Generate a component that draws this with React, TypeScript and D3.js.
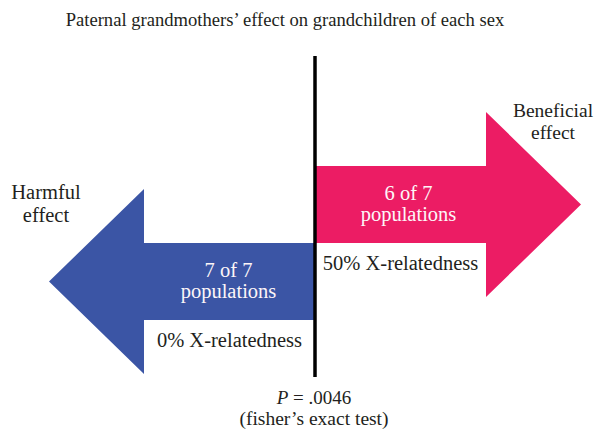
import React, { useRef, useEffect } from 'react';
import * as d3 from 'd3';

// Effect categories, one arrow each
const effects = ['Beneficial', 'Harmful'];
const effectLabels = [['Beneficial', 'effect'], ['Harmful', 'effect']];
const directions = [1, -1];
const populationCounts = [6, 7];
const populationTotals = [7, 7];
const xRelatedness = ['50%', '0%'];
const colors = ['#ec1c64', '#3b55a5'];

const title = 'Paternal grandmothers\u2019 effect on grandchildren of each sex';
const pValue = '.0046';
const testName = '(fisher\u2019s exact test)';

const W = 595;
const H = 432;
const textColor = '#231f20';
const font = '"Liberation Serif", "Times New Roman", serif';

const App: React.FC = () => {
  const svgRef = useRef<SVGSVGElement>(null);

  useEffect(() => {
    if (!svgRef.current) return;
    d3.select(svgRef.current).selectAll('*').remove();

    const svg = d3.select(svgRef.current)
      .attr('width', W)
      .attr('height', H)
      .style('font-family', font);

    // horizontal: -1 harmful tip, 0 = no effect line, 1 beneficial tip
    const x = d3.scaleLinear().domain([-1, 1]).range([49, 581]);
    // vertical position of each arrow's shaft centre
    const y = d3.scalePoint<string>().domain(effects).range([204.5, 281.5]);

    const shaftHalf = 38.5;
    const headHalf = 92.5;
    const headLen = 95;

    // title
    svg.append('text')
      .attr('x', 285)
      .attr('y', 26)
      .attr('text-anchor', 'middle')
      .attr('fill', textColor)
      .style('font-size', '18.6px')
      .text(title);

    const line = d3.line<[number, number]>();

    effects.forEach((e, i) => {
      const d = directions[i];
      const x0 = x(0);
      const tip = x(d);
      const hb = tip - d * headLen;
      const cy = y(e) as number;
      const pts: [number, number][] = [
        [x0, cy - shaftHalf],
        [hb, cy - shaftHalf],
        [hb, cy - headHalf],
        [tip, cy],
        [hb, cy + headHalf],
        [hb, cy + shaftHalf],
        [x0, cy + shaftHalf],
      ];
      svg.append('path')
        .attr('d', line(pts) + 'Z')
        .attr('fill', colors[i]);

      const mid = (x0 + hb) / 2;
      const top = cy - shaftHalf;
      const popX = mid + (d > 0 ? 8 : -1);

      const pop = svg.append('text')
        .attr('text-anchor', 'middle')
        .attr('fill', '#fdf6f8')
        .style('font-size', '20.5px');
      pop.append('tspan')
        .attr('x', popX)
        .attr('y', top + 33.5)
        .text(`${populationCounts[i]} of ${populationTotals[i]}`);
      pop.append('tspan')
        .attr('x', popX)
        .attr('y', top + 54.5)
        .text('populations');

      svg.append('text')
        .attr('x', mid)
        .attr('y', cy + shaftHalf + 26.5)
        .attr('text-anchor', 'middle')
        .attr('fill', textColor)
        .style('font-size', '20.5px')
        .text(`${xRelatedness[i]} X-relatedness`);

      // label near the arrow head
      const lx = d > 0 ? tip - 28 : tip - 3;
      const ly = d > 0 ? cy - headHalf + 4.5 : cy - headHalf + 10;
      const lab = svg.append('text')
        .attr('text-anchor', 'middle')
        .attr('fill', textColor)
        .style('font-size', d > 0 ? '19.5px' : '20.5px');
      effectLabels[i].forEach((t, k) => {
        lab.append('tspan')
          .attr('x', lx)
          .attr('y', ly + k * (d > 0 ? 22 : 23))
          .text(t);
      });
    });

    // no-effect line
    svg.append('line')
      .attr('x1', x(0))
      .attr('x2', x(0))
      .attr('y1', 56)
      .attr('y2', 377)
      .attr('stroke', '#000')
      .attr('stroke-width', 3.5);

    const p = svg.append('text')
      .attr('x', x(0) - 1)
      .attr('y', 404)
      .attr('text-anchor', 'middle')
      .attr('fill', textColor)
      .style('font-size', '19px');
    p.append('tspan').style('font-style', 'italic').text('P');
    p.append('tspan').text(` = ${pValue}`);

    svg.append('text')
      .attr('x', x(0) - 1)
      .attr('y', 425)
      .attr('text-anchor', 'middle')
      .attr('fill', textColor)
      .style('font-size', '19.5px')
      .text(testName);
  }, []);

  return (
    <svg
      ref={svgRef}
      style={{ position: 'absolute', left: 0, top: 0, background: '#fff' }}
    />
  );
};

export default App;
